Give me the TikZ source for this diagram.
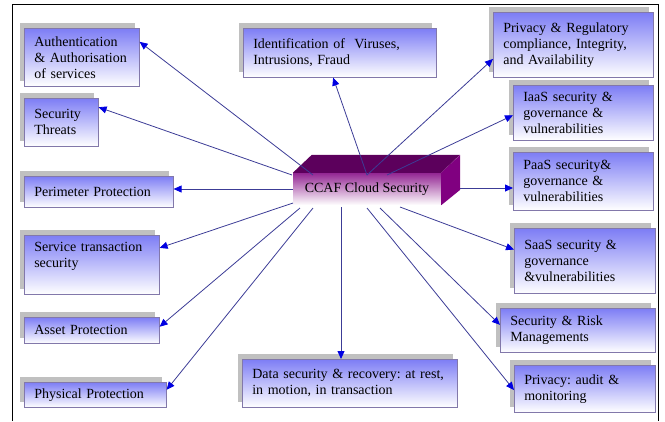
\documentclass[tikz,border=0pt]{standalone}
\usepackage{fontspec}
\setmainfont{Liberation Serif}
\frenchspacing
\usetikzlibrary{arrows.meta,shadows}
\definecolor{boxtop}{RGB}{125,125,245}
\definecolor{boxline}{RGB}{130,120,170}
\definecolor{shade}{RGB}{192,192,192}
\definecolor{linkblue}{RGB}{60,60,150}
\definecolor{tipblue}{RGB}{0,0,225}
\definecolor{cubefront}{RGB}{128,0,128}
\definecolor{cubetop}{RGB}{92,0,92}
\begin{document}
\begin{tikzpicture}[x=1pt,y=-1pt,
  topic/.style={draw=boxline,line width=0.6pt,top color=boxtop,bottom color=white,
    general shadow={fill=shade,shadow xshift=-4.5pt,shadow yshift=5pt},
    anchor=north west,align=left,inner xsep=10pt,inner ysep=2pt,
    font=\fontsize{14}{16}\selectfont},
  link/.style={draw=linkblue,line width=0.8pt,-{Triangle[length=8pt,width=7pt,color=tipblue]}}]
\useasboundingbox (0,0) rectangle (665,421);
\draw[line width=0.8pt] (12,421) -- (12,4) -- (658,4) -- (658,421);
\node[topic,text width=95pt,minimum height=58pt] (auth) at (24,28) {Authentication\\\& Authorisation\\of services};
\node[topic,text width=54pt,minimum height=48pt] (threat) at (24,98) {Security\\Threats};
\node[topic,text width=129pt,minimum height=31pt] (perim) at (24,176) {Perimeter Protection};
\node[topic,text width=115pt,minimum height=59pt] (service) at (24,235) {Service transaction\\security\\\strut};
\node[topic,text width=115pt,minimum height=26pt] (asset) at (24,317) {Asset Protection};
\node[topic,text width=122pt,minimum height=25pt] (phys) at (24,382) {Physical Protection};
\node[topic,text width=173pt,minimum height=49pt] (ident) at (243,28) {Identification of~ Viruses,\\Intrusions, Fraud};
\node[topic,text width=195pt,minimum height=48pt] (data) at (242,359) {Data security \& recovery: at rest,\\in motion, in transaction};
\node[topic,text width=140pt,minimum height=65pt] (privreg) at (493,12) {Privacy \& Regulatory\\compliance, Integrity,\\and Availability};
\node[topic,text width=120pt,minimum height=55pt] (iaas) at (513,85) {IaaS security \&\\governance \&\\vulnerabilities};
\node[topic,text width=120pt,minimum height=58pt] (paas) at (513,152) {PaaS security\&\\governance \&\\vulnerabilities};
\node[topic,text width=121pt,minimum height=65pt] (saas) at (514,228) {SaaS security \&\\governance\\\&vulnerabilities};
\node[topic,text width=135pt,minimum height=44pt] (risk) at (500,308) {Security \& Risk\\Managements};
\node[topic,text width=121pt,minimum height=47pt] (audit) at (514,365) {Privacy: audit \&\\monitoring};
\node[top color=cubefront!85,middle color=cubefront!22,bottom color=white,minimum width=148pt,minimum height=32pt,inner sep=0pt,font=\fontsize{14}{16}\selectfont] (ccaf) at (367,189) {CCAF Cloud Security};
\fill[cubetop] (ccaf.north west) -- ++(19,-18) -- ++(148,0) -- (ccaf.north east) -- cycle;
\fill[cubefront] (ccaf.north east) -- ++(19,-18) -- ++(0,35) -- (ccaf.south east) -- cycle;
\coordinate (s-auth) at (313,175);
\coordinate (s-threat) at (292,175);
\coordinate (s-ident) at (367,175);
\coordinate (s-iaas) at (387,175);
\coordinate (s-paas) at (460,188);
\coordinate (s-saas) at (400,207);
\coordinate (s-risk) at (380,208);
\coordinate (s-audit) at (367,208);
\coordinate (s-data) at (341,207);
\coordinate (s-phys) at (313,208);
\coordinate (s-asset) at (300,208);
\coordinate (s-service) at (293,203);
\draw[link] (s-auth) -- (auth.15);
\draw[link] (s-threat) -- (threat.22);
\draw[link] (s-ident) -- (ident.255);
\draw[link] (s-ident) -- (privreg.190);
\draw[link] (s-iaas) -- (iaas.182);
\draw[link] (s-paas) -- (s-paas -| paas.west);
\draw[link] (s-saas) -- (saas.171);
\draw[link] (s-risk) -- (risk.176);
\draw[link] (s-audit) -- (audit.181);
\draw[link] (s-data) -- (s-data |- data.north);
\draw[link] (ccaf.west) -- (ccaf.west -| perim.east);
\draw[link] (s-service) -- (service.14);
\draw[link] (s-asset) -- (asset.3);
\draw[link] (s-phys) -- (phys.4);
\end{tikzpicture}
\end{document}
